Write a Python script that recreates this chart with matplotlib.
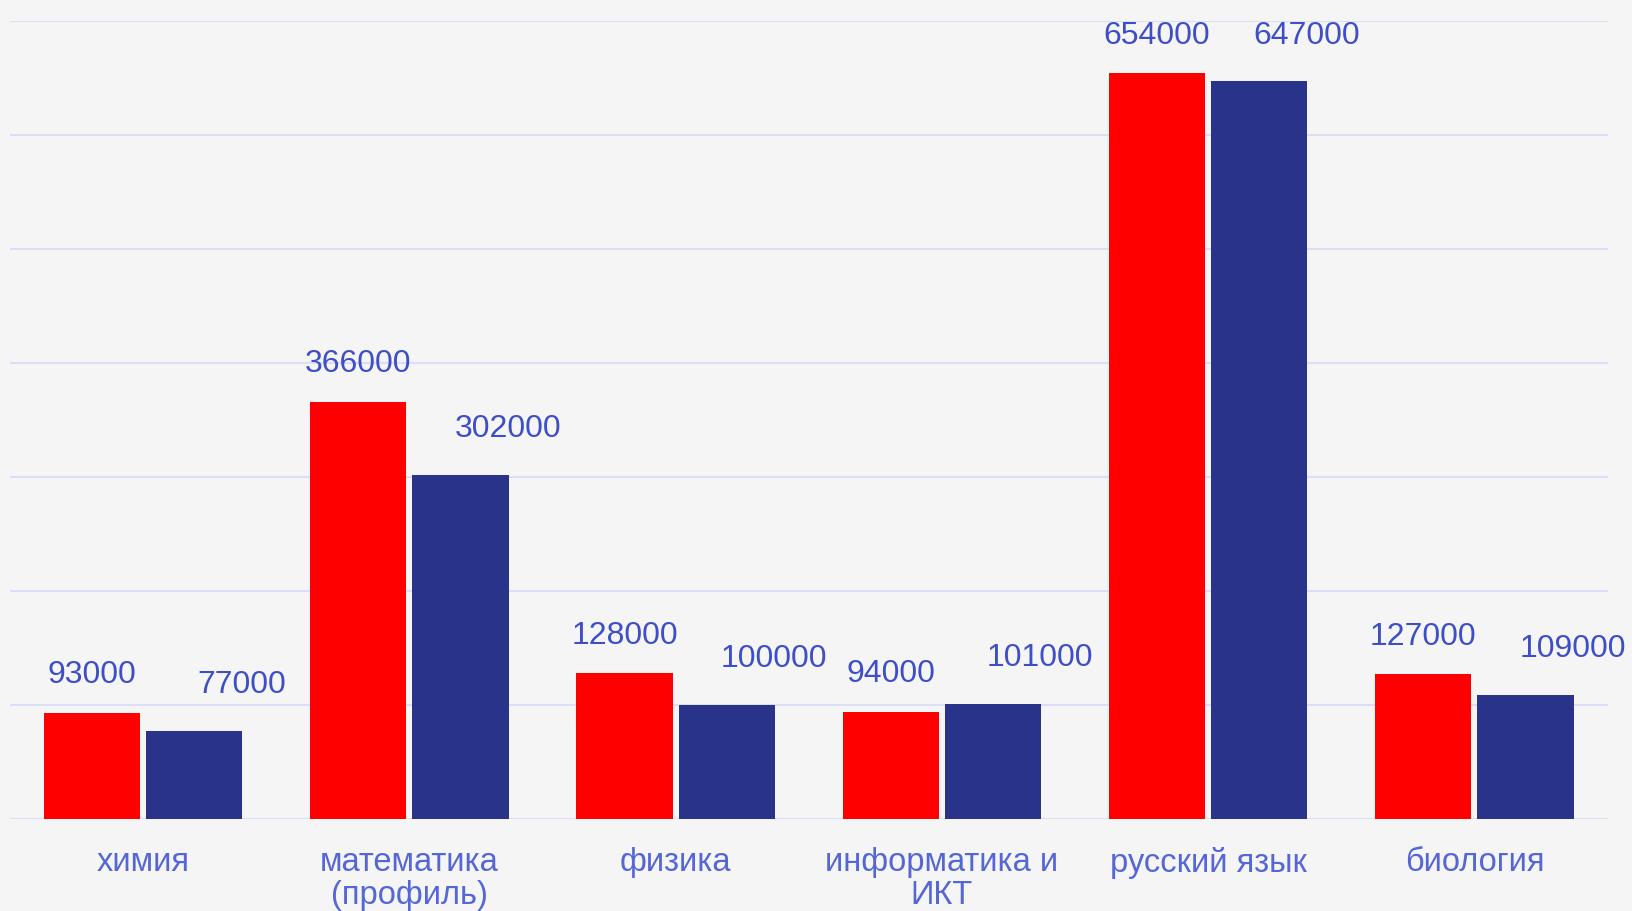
import matplotlib
matplotlib.use("Agg")
import matplotlib.pyplot as plt
import numpy as np

# subjects and participant counts (two years)
categories = ["химия", "математика\n(профиль)", "физика", "информатика и\nИКТ", "русский язык", "биология"]
series_red = [93000, 366000, 128000, 94000, 654000, 127000]
series_blue = [77000, 302000, 100000, 101000, 647000, 109000]

RED = "#ff0000"
BLUE = "#283389"
VALUE_COLOR = "#3d4ec8"
LABEL_COLOR = "#5566d6"
GRID_COLOR = "#dcdef6"
BG = "#f5f5f5"

plt.rcParams["font.family"] = ["Liberation Sans", "DejaVu Sans"]

fig = plt.figure(figsize=(16.32, 9.11), dpi=100)
fig.patch.set_facecolor(BG)
ax = fig.add_axes([0.0061, 0.101, 0.9789, 0.876])
ax.set_facecolor(BG)

x = np.arange(len(categories))
w = 0.362
off = 0.192
bars_r = ax.bar(x - off, series_red, w, color=RED, zorder=3)
bars_b = ax.bar(x + off, series_blue, w, color=BLUE, zorder=3)

for b, v in zip(bars_r, series_red):
    ax.annotate(str(v), (b.get_x() + b.get_width() / 2, v), xytext=(0, 27),
                textcoords="offset points", ha="center", va="center",
                fontsize=23, color=VALUE_COLOR, annotation_clip=False)
for b, v in zip(bars_b, series_blue):
    ax.annotate(str(v), (b.get_x() + b.get_width() / 2, v), xytext=(34, 33),
                textcoords="offset points", ha="center", va="center",
                fontsize=23, color=VALUE_COLOR, annotation_clip=False)

ax.set_xlim(-0.5, len(categories) - 0.5)
ax.set_ylim(0, 700000)
ax.set_yticks(np.arange(0, 700001, 100000))
ax.yaxis.grid(True, color=GRID_COLOR, linewidth=1.5, zorder=0)
ax.tick_params(axis="y", left=False, labelleft=False)
ax.set_xticks(x)
ax.set_xticklabels(categories, fontsize=23.5, color=LABEL_COLOR, linespacing=1.1)
ax.tick_params(axis="x", length=0, pad=20)
for s in ax.spines.values():
    s.set_visible(False)

fig.savefig("out.png", dpi=100, facecolor=BG)
